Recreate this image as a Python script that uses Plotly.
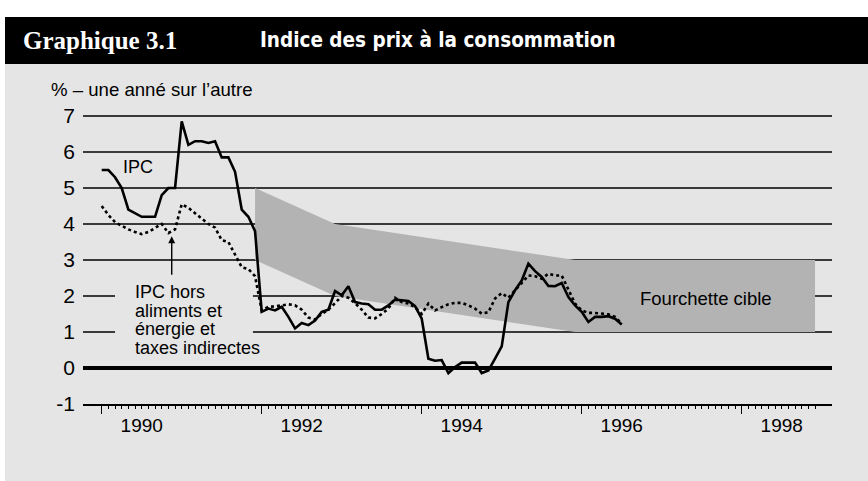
import plotly.graph_objects as go

# ---------------- data (monthly, starting January 1990) ----------------
start_month = "1990-01"

ipc = [
    5.5, 5.5, 5.3, 5.0, 4.4, 4.3, 4.2, 4.2, 4.2, 4.8, 5.0, 5.0,          # 1990
    6.85, 6.2, 6.3, 6.3, 6.25, 6.3, 5.85, 5.85, 5.45, 4.4, 4.2, 3.8,     # 1991
    1.56, 1.65, 1.6, 1.7, 1.42, 1.1, 1.25, 1.19, 1.32, 1.56, 1.62, 2.14, # 1992
    2.02, 2.27, 1.83, 1.79, 1.77, 1.62, 1.62, 1.74, 1.9, 1.88, 1.86, 1.72, # 1993
    1.37, 0.26, 0.2, 0.22, -0.14, 0.03, 0.15, 0.15, 0.15, -0.14, -0.07, 0.26, # 1994
    0.6, 1.83, 2.16, 2.43, 2.9, 2.69, 2.53, 2.28, 2.27, 2.36, 1.97, 1.74,  # 1995
    1.56, 1.28, 1.42, 1.42, 1.44, 1.37, 1.21,                           # 1996
]

core = [
    4.5, 4.25, 4.05, 3.95, 3.85, 3.78, 3.72, 3.78, 3.88, 4.0, 3.75, 3.85,   # 1990
    4.55, 4.45, 4.3, 4.15, 4.0, 3.9, 3.55, 3.5, 3.15, 2.8, 2.75, 2.55,      # 1991
    1.6, 1.7, 1.71, 1.74, 1.77, 1.74, 1.62, 1.4, 1.35, 1.5, 1.62, 1.8,      # 1992
    2.0, 1.95, 1.8, 1.62, 1.4, 1.38, 1.5, 1.65, 1.95, 1.83, 1.79, 1.69,     # 1993
    1.5, 1.79, 1.6, 1.69, 1.77, 1.81, 1.81, 1.74, 1.65, 1.51, 1.55, 1.93,   # 1994
    2.08, 1.95, 2.16, 2.39, 2.57, 2.55, 2.48, 2.62, 2.57, 2.57, 2.2, 1.79,  # 1995
    1.6, 1.53, 1.53, 1.51, 1.49, 1.42, 1.23,                               # 1996
]

band_months = ["1991-12", "1992-12", "1995-12", "1998-12"]
band_upper = [5, 4, 3, 3]
band_lower = [3, 2, 1, 1]

year_ticks = [1990, 1991, 1992, 1993, 1994, 1995, 1996, 1997, 1998]
year_labels = ["1990", "", "1992", "", "1994", "", "1996", "", "1998"]
y_ticks = [-1, 0, 1, 2, 3, 4, 5, 6, 7]
y_labels = ["-1", "0", "1", "2", "3", "4", "5", "6", "7"]


def month_to_x(s):
    y, m = s.split("-")
    return int(y) + (int(m) - 1) / 12.0


x0 = month_to_x(start_month)
series_x = [x0 + i / 12.0 for i in range(len(ipc))]
band_x = [month_to_x(s) for s in band_months]
minor_ticks = [1990 + i / 12.0 for i in range(9 * 12)]

# ---------------- geometry helpers ----------------
W, H = 868, 481
ML, MR, MT, MB = 83, 36, 107, 77
PW, PH = W - ML - MR, H - MT - MB


def px(p):
    return (p - ML) / PW


def py(p):
    return (H - MB - p) / PH


BG = "#e5e5e5"
BAND = "#b3b3b3"
FONT = "Liberation Sans, Arial, sans-serif"

fig = go.Figure()

fig.add_trace(go.Scatter(x=band_x, y=band_lower, mode="lines",
                         line=dict(width=0, color=BAND), hoverinfo="skip",
                         showlegend=False))
fig.add_trace(go.Scatter(x=band_x, y=band_upper, mode="lines", fill="tonexty",
                         fillcolor=BAND, line=dict(width=0, color=BAND),
                         hoverinfo="skip", showlegend=False))
fig.add_trace(go.Scatter(x=series_x, y=core, mode="lines",
                         line=dict(color="black", width=2.6, dash="dot"),
                         showlegend=False))
fig.add_trace(go.Scatter(x=series_x, y=ipc, mode="lines",
                         line=dict(color="black", width=2.6),
                         showlegend=False))

shapes = [
    # grey panel
    dict(type="rect", xref="paper", yref="paper", x0=px(5), x1=px(W),
         y0=py(H), y1=py(64), fillcolor=BG, line=dict(width=0), layer="below"),
    # black header band
    dict(type="rect", xref="paper", yref="paper", x0=px(5), x1=px(W),
         y0=py(64), y1=py(17), fillcolor="black", line=dict(width=0), layer="below"),
    # background patch behind the core-index label (breaks gridlines)
    dict(type="rect", xref="x", yref="y", x0=1990.166, x1=1991.89, y0=0.35, y1=2.5,
         fillcolor=BG, line=dict(width=0), layer="between"),
]

annotations = [
    dict(text="<b>Graphique 3.1</b>", xref="paper", yref="paper", x=px(21), y=py(40),
         xanchor="left", yanchor="middle", showarrow=False,
         font=dict(family="Liberation Serif, DejaVu Serif, serif", size=25, color="white")),
    dict(text="<b>Indice des prix à la consommation</b>", xref="paper", yref="paper",
         x=px(258), y=py(40), xanchor="left", yanchor="middle", showarrow=False,
         font=dict(family="Liberation Sans Narrow, DejaVu Sans Condensed, Liberation Sans, sans-serif",
                   size=20.5, color="white")),
    dict(text="% – une anné sur l’autre", xref="paper", yref="paper", x=px(49), y=py(89),
         xanchor="left", yanchor="middle", showarrow=False,
         font=dict(family=FONT, size=18.6, color="black")),
    dict(text="IPC", x=1990.45, y=5.59, xanchor="center", yanchor="middle",
         showarrow=False, font=dict(family=FONT, size=18, color="black")),
    dict(text="Fourchette cible", x=1997.55, y=1.94, xanchor="center", yanchor="middle",
         showarrow=False, font=dict(family=FONT, size=18.5, color="black")),
    dict(text="", x=1990.875, y=3.66, ax=1990.875, ay=2.55, axref="x", ayref="y",
         showarrow=True, arrowhead=2, arrowsize=1, arrowwidth=1.4, arrowcolor="black"),
]

label_lines = ["IPC hors", "aliments et", "énergie et", "taxes indirectes"]
label_y = [2.10, 1.575, 1.075, 0.547]
for txt, yy in zip(label_lines, label_y):
    annotations.append(dict(text=txt, x=1990.39, y=yy, xanchor="left", yanchor="middle",
                            showarrow=False, font=dict(family=FONT, size=18, color="black")))

fig.update_layout(
    width=W, height=H,
    margin=dict(l=ML, r=MR, t=MT, b=MB, pad=0),
    paper_bgcolor="white", plot_bgcolor=BG,
    font=dict(family=FONT, color="black"),
    showlegend=False, hovermode=False,
    shapes=shapes, annotations=annotations,
    xaxis=dict(
        range=[1989.766, 1989.766 + PW / 80.0],
        tickmode="array", tickvals=year_ticks, ticktext=year_labels,
        ticks="outside", ticklen=8, tickwidth=1.5, tickcolor="black",
        ticklabelshift=40, ticklabelstandoff=-4,
        tickfont=dict(family=FONT, size=19, color="black"),
        showline=True, linecolor="black", linewidth=1.5,
        showgrid=False, zeroline=False,
        minor=dict(tickmode="array", tickvals=minor_ticks, ticks="outside",
                   ticklen=3, tickwidth=1, tickcolor="black", showgrid=False),
    ),
    yaxis=dict(
        range=[-1, -1 + PH / 36.0],
        tickmode="array", tickvals=y_ticks, ticktext=y_labels,
        ticks="", ticklabelstandoff=7,
        tickfont=dict(family=FONT, size=21, color="black"),
        showline=False, showgrid=True, gridcolor="#3a3a3a", gridwidth=1.5,
        zeroline=True, zerolinecolor="black", zerolinewidth=4,
    ),
)

fig.write_html(
    "out.html",
    config={"displayModeBar": False, "staticPlot": True},
    post_script="document.body.style.margin='0';document.body.style.overflow='hidden';",
)
